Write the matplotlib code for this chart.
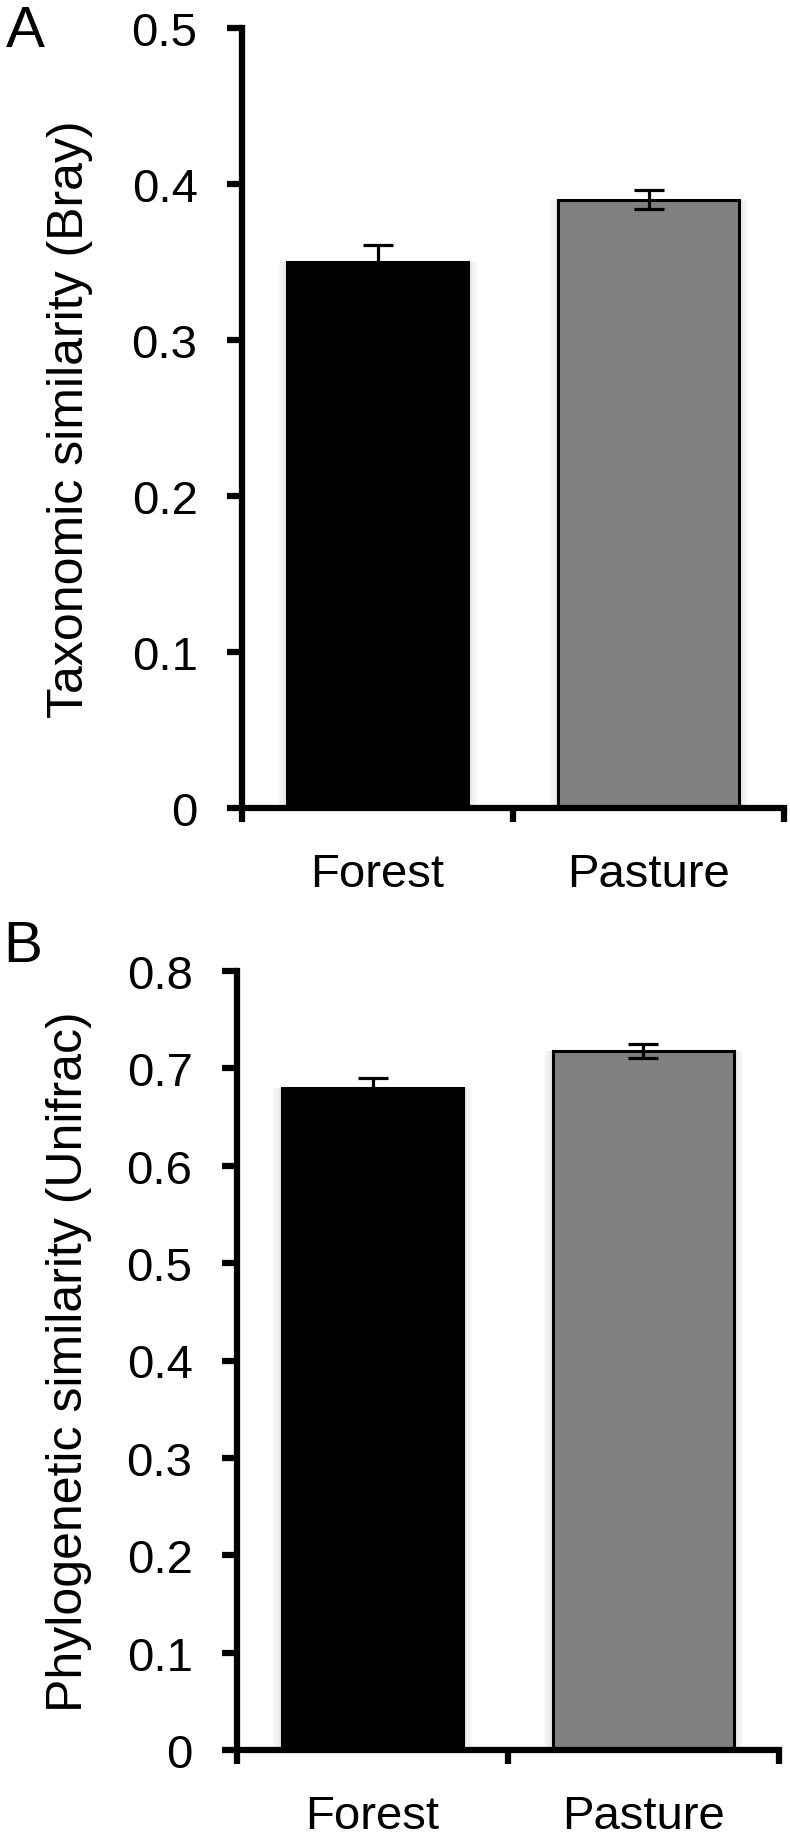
import numpy as np
import matplotlib
matplotlib.use("Agg")
import matplotlib.pyplot as plt
from matplotlib import patheffects as pe

plt.rcParams['font.family'] = ['Liberation Sans', 'DejaVu Sans']

# ---- data ----
categories = ['Forest', 'Pasture']
bar_colors = ['#000000', '#808080']

taxonomic_means = [0.350, 0.390]
taxonomic_errs = [0.011, 0.006]

phylo_means = [0.680, 0.718]
phylo_errs = [0.010, 0.007]

panels = [
    dict(letter='A', means=taxonomic_means, errs=taxonomic_errs,
         ylabel='Taxonomic similarity (Bray)', ymax=0.5,
         yticks=[0, 0.1, 0.2, 0.3, 0.4, 0.5],
         rect=(242, 784, 809, 29.3), letter_xy=(6, 5), label_x=93),
    dict(letter='B', means=phylo_means, errs=phylo_errs,
         ylabel='Phylogenetic similarity (Unifrac)', ymax=0.8,
         yticks=[0, 0.1, 0.2, 0.3, 0.4, 0.5, 0.6, 0.7, 0.8],
         rect=(237, 779, 1751, 972), letter_xy=(3, 920), label_x=92),
]

W, H = 790, 1849
fig = plt.figure(figsize=(W / 100, H / 100), dpi=100)

for p in panels:
    x0, x1, yb, yt = p['rect']
    ax = fig.add_axes([x0 / W, 1 - yb / H, (x1 - x0) / W, (yb - yt) / H])
    xpos = np.arange(len(categories)) + 0.5
    bars = ax.bar(xpos, p['means'], width=0.67, color=bar_colors,
                  edgecolor='black', linewidth=2.2, zorder=2)
    shadows = []
    for off in (1.5, 3.0, 4.5, 6.0):
        shadows.append(pe.SimplePatchShadow(offset=(-off, 0), shadow_rgbFace='#808080', alpha=0.05))
        shadows.append(pe.SimplePatchShadow(offset=(off, 0), shadow_rgbFace='#808080', alpha=0.05))
    for b in bars:
        b.set_path_effects(shadows + [pe.Normal()])
    ax.errorbar(xpos, p['means'], yerr=p['errs'], fmt='none', ecolor='black',
                elinewidth=2.3, capsize=10.5, capthick=2.3, zorder=3)

    ax.set_xlim(0, 2)
    ax.set_ylim(0, p['ymax'])
    ax.set_yticks(p['yticks'])
    ax.set_yticklabels(['0' if v == 0 else f'{v:.1f}' for v in p['yticks']])
    ax.set_xticks([0, 1, 2])
    ax.set_xticklabels([])
    ax.set_xticks(xpos, minor=True)
    ax.set_xticklabels(categories, minor=True)

    for s in ('top', 'right'):
        ax.spines[s].set_visible(False)
    for s in ('left', 'bottom'):
        ax.spines[s].set_linewidth(4.5)

    ax.tick_params(axis='y', which='major', direction='out', length=11, width=4.5,
                   labelsize=34, pad=21)
    ax.tick_params(axis='x', which='major', direction='out', length=10, width=4.5)
    ax.tick_params(axis='x', which='minor', length=0, labelsize=34, pad=32)

    ax.set_ylabel(p['ylabel'], fontsize=36)
    ax.yaxis.set_label_coords((p['label_x'] - x0) / (x1 - x0), 0.5)

    lx, ly = p['letter_xy']
    fig.text(lx / W, 1 - ly / H, p['letter'], fontsize=42, ha='left', va='top')

fig.savefig('out.png', dpi=100, facecolor='white')
